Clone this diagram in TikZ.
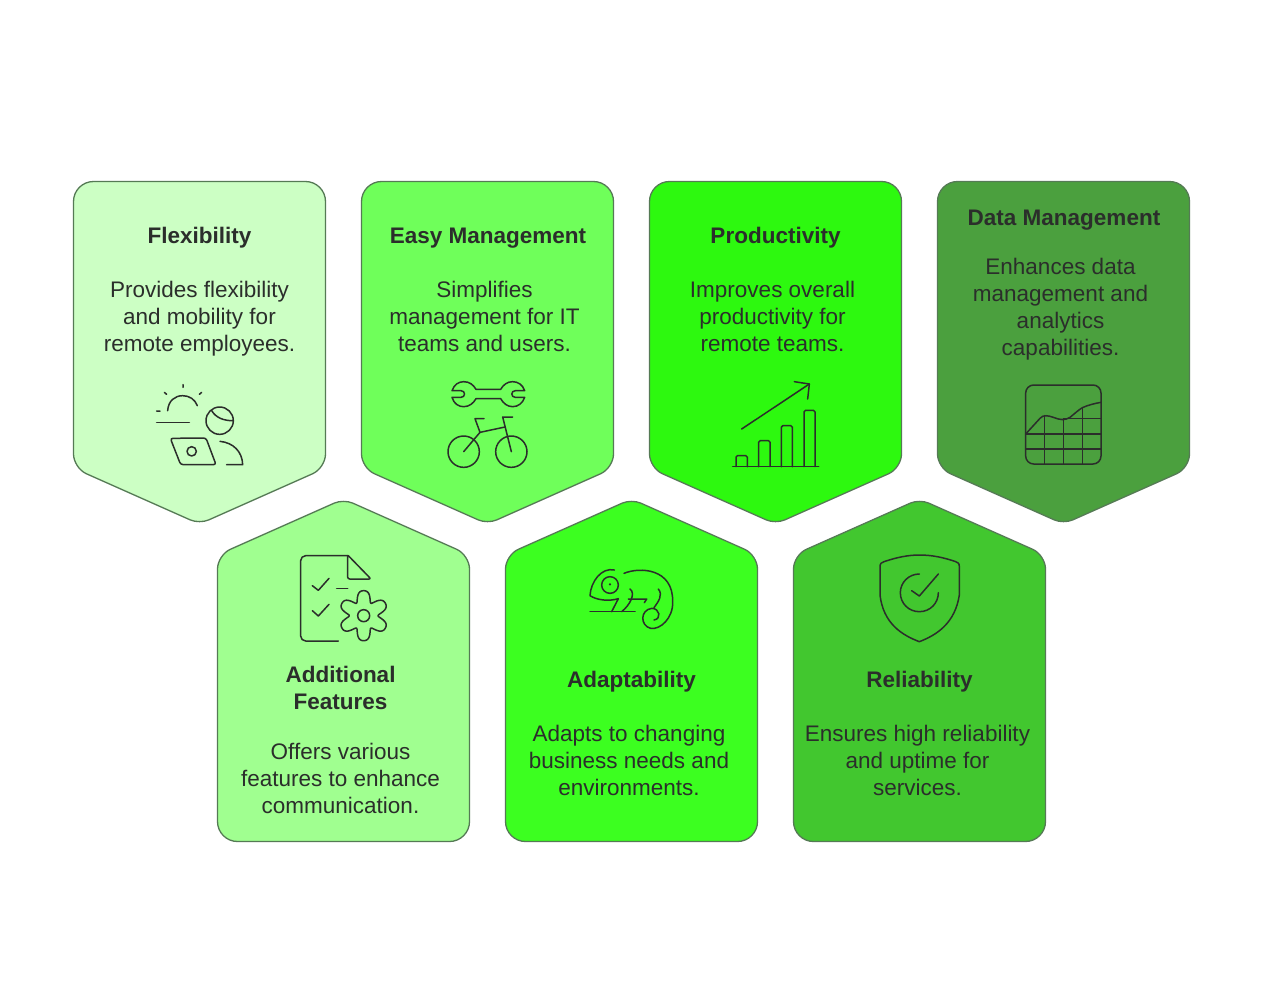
\documentclass[tikz,border=0pt]{standalone}
\usepackage{fontspec}
\setmainfont{Liberation Sans}
\definecolor{cFlex}{HTML}{CCFFC4}
\definecolor{cEasy}{HTML}{6FFF5A}
\definecolor{cProd}{HTML}{2DF90F}
\definecolor{cData}{HTML}{4BA03E}
\definecolor{cAddi}{HTML}{A0FF90}
\definecolor{cAdap}{HTML}{3CFF20}
\definecolor{cReli}{HTML}{42C72F}
\definecolor{cEdge}{HTML}{557A55}
\definecolor{cInk}{HTML}{2B2E2B}
\tikzset{
  boxedge/.style={draw=cEdge,line width=1.3pt},
  ttl/.style={font=\fontsize{22.5}{27}\selectfont\bfseries,text=cInk,align=center,inner sep=0pt},
  bdy/.style={font=\fontsize{22.5}{27}\selectfont,text=cInk,align=center,inner sep=0pt},
  ico/.style={draw=cInk,line width=1.5pt,line cap=round,line join=round}
}
\newcommand{\downbox}[2]{\begin{scope}[shift={(#1,0)}]
  \path[boxedge,fill=#2,rounded corners=20pt] (0,181.5) -- (252,181.5) [rounded corners=14pt] -- (252,468) [rounded corners=10pt] -- (126,524) [rounded corners=14pt] -- (0,468) [rounded corners=20pt] -- cycle;
\end{scope}}
\newcommand{\upbox}[2]{\begin{scope}[shift={(#1,0)}]
  \path[boxedge,fill=#2,rounded corners=20pt] (0,841.5) -- (252,841.5) [rounded corners=14pt] -- (252,555) [rounded corners=10pt] -- (126,499) [rounded corners=14pt] -- (0,555) [rounded corners=20pt] -- cycle;
\end{scope}}
\begin{document}
\begin{tikzpicture}[x=1pt,y=-1pt]
\useasboundingbox (0,0) rectangle (1263,1005);
\fill[white] (0,0) rectangle (1263,1005);
\downbox{73.5}{cFlex}
\downbox{361.5}{cEasy}
\downbox{649.5}{cProd}
\downbox{937.5}{cData}
\upbox{217.5}{cAddi}
\upbox{505.5}{cAdap}
\upbox{793.5}{cReli}

\node[ttl] (t1) at (199.5,238) {Flexibility};
\node[bdy] (b1) at (199.5,319) {Provides flexibility\\and mobility for\\remote employees.};
\node[ttl] (t2) at (488,238) {Easy Management};
\node[bdy] (b2) at (484.5,316) {Simplifies\\management for IT\\teams and users.};
\node[ttl] (t3) at (775.5,238) {Productivity};
\node[bdy] (b3) at (772.5,316) {Improves overall\\productivity for\\remote teams.};
\node[ttl] (t4) at (1064,220) {Data Management};
\node[bdy] (b4) at (1060.5,309) {Enhances data\\management and\\analytics\\capabilities.};
\node[ttl] (t5) at (340.5,687.5) {Additional\\Features};
\node[bdy] (b5) at (340.5,778) {Offers various\\features to enhance\\communication.};
\node[ttl] (t6) at (631.5,682) {Adaptability};
\node[bdy] (b6) at (629,760) {Adapts to changing\\business needs and\\environments.};
\node[ttl] (t7) at (919.5,682) {Reliability};
\node[bdy] (b7) at (917.5,760) {Ensures high reliability\\and uptime for\\services.};

% flexibility icon
\begin{scope}[shift={(130,370)},scale=1/3,ico]
\draw (159,44)--(159,52) (103,67)--(110,73) (215,67)--(208,73) (80,123)--(90,123);
\draw (113,122) .. controls (115,92) and (135,77) .. (158,77) .. controls (178,77) and (195,88) .. (202,107);
\draw (80,157)--(178,157);
\draw (269,152) circle[radius=41];
\draw (245,122) .. controls (258,143) and (280,152) .. (308,152);
\draw[rounded corners=2.5pt] (121,205) -- (228,204) -- (258,284) -- (152,284) -- cycle;
\draw (185,244) circle[radius=14];
\draw (270,214) .. controls (310,218) and (337,245) .. (338,284) -- (290,284);
\end{scope}

% wrench and bicycle icon
\begin{scope}[shift={(430,370)},scale=1/3,ico]
\draw (66,62) -- (93,62) .. controls (107,62) and (107,82) .. (93,82) -- (66,82)
  .. controls (72,102) and (86,110) .. (101,110) .. controls (118,110) and (130,100) .. (138,86)
  -- (212,86) .. controls (220,100) and (232,110) .. (248,110) .. controls (264,110) and (278,100) .. (284,82)
  -- (256,82) .. controls (242,82) and (242,62) .. (256,62) -- (284,62)
  .. controls (278,44) and (264,35) .. (248,35) .. controls (232,35) and (220,44) .. (212,58)
  -- (138,58) .. controls (130,44) and (118,35) .. (101,35) .. controls (86,35) and (72,44) .. (66,62) -- cycle;
\draw (101,245) circle[radius=47];
\draw (244,245) circle[radius=47];
\draw (101,245) -- (150,187) -- (225,171);
\draw (162,146) -- (135,146) -- (150,187);
\draw (248,141) -- (218,141) -- (244,245);
\end{scope}

% chart icon
\begin{scope}[shift={(720,370)},scale=1/3,ico]
\draw (38,290)--(296,290);
\draw[rounded corners=1.5pt] (48,290)--(48,257)--(82,257)--(82,290);
\draw[rounded corners=1.5pt] (116,290)--(116,212)--(150,212)--(150,290);
\draw[rounded corners=1.5pt] (184,290)--(184,167)--(217,167)--(217,290);
\draw[rounded corners=1.5pt] (252,290)--(252,121)--(285,121)--(285,290);
\draw (65,177)--(268,42);
\draw (223,35)--(268,42)--(263,87);
\end{scope}

% data grid icon
\begin{scope}[shift={(1010,375)},scale=1/3,ico]
\draw[rounded corners=8pt] (47,30) rectangle (273,267);
\draw (47,177)--(273,177) (47,222)--(273,222) (160,131)--(273,131);
\draw (104,122)--(104,267) (160,133)--(160,267) (217,100)--(217,267);
\draw (47,177) -- (90,130) .. controls (100,118) and (115,122) .. (130,127) .. controls (150,135) and (165,137) .. (180,127) .. controls (195,115) and (205,105) .. (217,98) .. controls (235,90) and (255,85) .. (273,82);
\end{scope}

% document and gear icon
\begin{scope}[shift={(285,545)},scale=1/3,ico]
\draw[rounded corners=5pt] (160,288) -- (47,288) -- (47,32) -- (190,32);
\draw[rounded corners=2pt] (190,32) -- (258,102) -- (188,102) -- (188,32);
\draw (82,122)--(100,136)--(132,100);
\draw (82,197)--(100,213)--(132,178);
\draw (155,131)--(188,131);
\draw (236,212) circle[radius=18];
\draw plot[domain=0:360,samples=121,smooth] ({236+(62-16*cos(6*\x)-3*cos(12*\x))*cos(\x)},{212+(62-16*cos(6*\x)-3*cos(12*\x))*sin(\x)}) -- cycle;
\end{scope}

% chameleon icon
\begin{scope}[shift={(580,555)},scale=1/3,ico]
\draw (103,45) .. controls (65,36) and (32,80) .. (30,122) .. controls (50,135) and (85,140) .. (115,131) -- (95,170);
\draw (90,90) circle[radius=25];
\fill[cInk] (90,88) circle[radius=3.5];
\draw (30,170)--(165,170);
\draw (150,102) .. controls (168,115) and (150,150) .. (125,170);
\draw (145,132) -- (200,132) -- (193,143);
\draw (132,55) .. controls (180,35) and (280,40) .. (278,140) .. controls (280,190) and (240,225) .. (212,220) .. controls (180,212) and (180,165) .. (215,160) .. controls (240,160) and (245,192) .. (222,195);
\draw (235,102) .. controls (250,120) and (235,140) .. (222,158);
\end{scope}

% shield icon
\begin{scope}[shift={(870,545)},scale=1/3,ico]
\draw (30,65) .. controls (30,55) and (35,52) .. (42,50) .. controls (80,37) and (115,30) .. (148,30) .. controls (185,30) and (220,37) .. (257,50) .. controls (264,52) and (268,55) .. (268,65) -- (268,150) .. controls (255,235) and (200,270) .. (148,290) .. controls (95,270) and (40,235) .. (30,150) -- cycle;
\draw (148,87) .. controls (116.5,87) and (91,112) .. (91,143) .. controls (91,175) and (116,200) .. (148,200) .. controls (180,200) and (205,175) .. (205,143);
\draw (125,137)--(148,153)--(205,87);
\end{scope}
\end{tikzpicture}
\end{document}
